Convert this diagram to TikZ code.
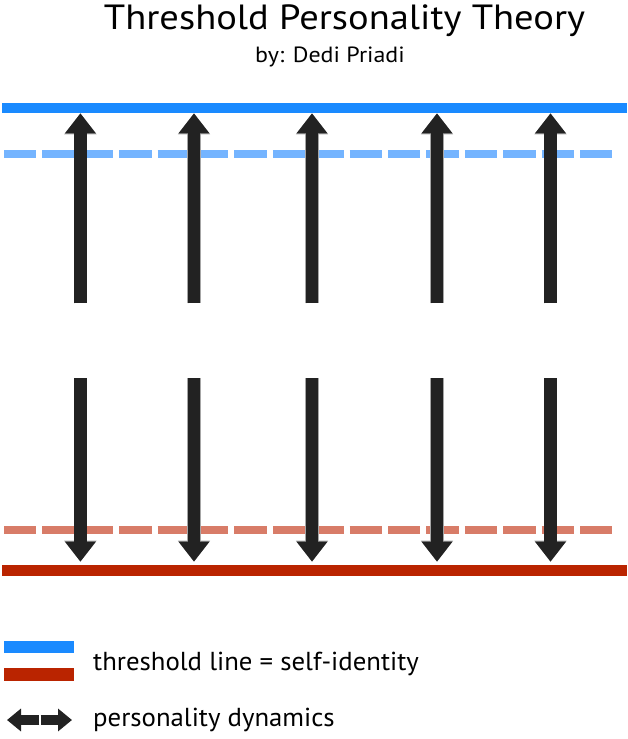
\documentclass[tikz,border=0pt]{standalone}
\usepackage{fontspec}
\setmainfont{PT Sans}
\newfontfamily\titlefont[FakeStretch=1.1]{PT Sans}
\newfontfamily\subfont[FakeStretch=1.09]{PT Sans}
\newfontfamily\legfont[FakeStretch=1.03]{PT Sans}
\usetikzlibrary{arrows.meta}
\definecolor{tblue}{RGB}{26,138,255}
\definecolor{tbluelight}{RGB}{116,180,255}
\definecolor{tred}{RGB}{186,36,0}
\definecolor{tredlight}{RGB}{216,124,104}
\definecolor{arrowblack}{RGB}{34,34,34}
\tikzset{
  solidline/.style={line width=9.5pt},
  dashline/.style={line width=7.6pt, dash pattern=on 32.3pt off 6.1pt},
  dynarrow/.style={draw=arrowblack, line width=12.6pt,
    -{Triangle[width=29.5pt,length=20pt]},
    preaction={draw=gray!70, line width=13.8pt, -{Triangle[width=31pt,length=21pt]}}},
  legarrow/.style={draw=arrowblack, line width=10pt,
    -{Triangle[width=22pt,length=14pt]}},
  titletext/.style={font=\titlefont\fontsize{35}{35}\selectfont, anchor=base, inner sep=0pt},
  subtext/.style={font=\subfont\fontsize{22}{22}\selectfont, anchor=base, inner sep=0pt},
  legtext/.style={font=\legfont\fontsize{26}{26}\selectfont, anchor=base west, inner sep=0pt},
}
\begin{document}
\begin{tikzpicture}[x=1pt,y=-1pt]
\useasboundingbox (0,0) rectangle (627,739);
% title
\node[titletext] (title) at (344.5,29.3) {Threshold Personality Theory};
\node[subtext] (sub) at (330,62.7) {by: Dedi Priadi};
% threshold lines
\coordinate (bl) at (2,108);
\coordinate (br) at (627,108);
\coordinate (bdl) at (4,154);
\coordinate (bdr) at (612.5,154);
\coordinate (rdl) at (4,529.7);
\coordinate (rdr) at (612.5,529.7);
\coordinate (rl) at (2,570.5);
\coordinate (rr) at (627,570.5);
\draw[solidline, tblue] (bl) -- (br);
\draw[dashline, tbluelight] (bdl) -- (bdr);
\draw[dashline, tredlight] (rdl) -- (rdr);
\draw[solidline, tred, line width=11pt] (rl) -- (rr);
% arrows
\foreach \i/\x in {1/80.4,2/194,3/312,4/437,5/550.5}{
  \coordinate (us\i) at (\x,303.3);
  \coordinate (ut\i) at (\x,113.3);
  \coordinate (ds\i) at (\x,378.3);
  \coordinate (dt\i) at (\x,561.7);
  \draw[dynarrow] (us\i) -- (ut\i);
  \draw[dynarrow] (ds\i) -- (dt\i);
}
% legend
\node[fill=tblue, minimum width=70pt, minimum height=12pt, inner sep=0pt, anchor=north west] (legblue) at (4,640.5) {};
\node[fill=tred, minimum width=70pt, minimum height=13pt, inner sep=0pt, anchor=north west] (legred) at (4,668) {};
\node[legtext] (legt1) at (93,670.7) {threshold line = self-identity};
\coordinate (la1) at (39.3,720);
\coordinate (la2) at (7,720);
\coordinate (ra1) at (40.7,720);
\coordinate (ra2) at (72,720);
\draw[legarrow] (la1) -- (la2);
\draw[legarrow] (ra1) -- (ra2);
\node[legtext] (legt2) at (93,726.7) {personality dynamics};
\end{tikzpicture}
\end{document}
